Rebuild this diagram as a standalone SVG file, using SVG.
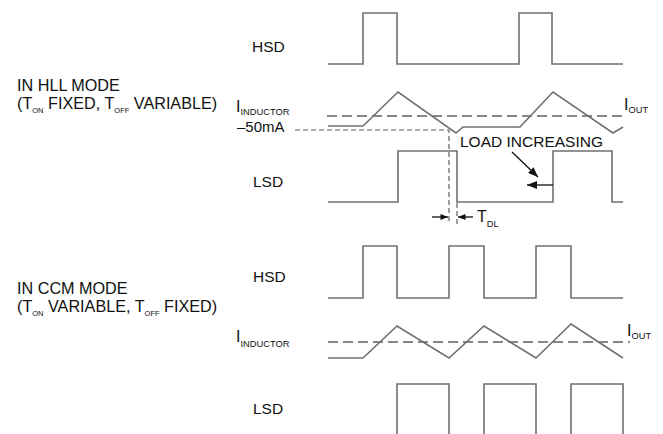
<svg xmlns="http://www.w3.org/2000/svg" width="663" height="434" viewBox="0 0 663 434">
<style>
text{font-family:"Liberation Sans",Arial,sans-serif;fill:#111}
.lbl{font-size:15.5px}
.mode{font-size:16.2px}
.sub{font-size:7.5px}
.isub{font-size:9.3px}
.wave{fill:none;stroke:#707070;stroke-width:1.6;stroke-linejoin:miter}
.dash{fill:none;stroke:#606060;stroke-width:1.3;stroke-dasharray:10,5}
.sdash{fill:none;stroke:#606060;stroke-width:1.2;stroke-dasharray:5,3}
.arr{fill:none;stroke:#111;stroke-width:1.3}
</style>
<defs>
<marker id="ah" viewBox="0 0 10 8" refX="10" refY="4" markerWidth="11" markerHeight="8" orient="auto" markerUnits="userSpaceOnUse"><path d="M0,0 L10,4 L0,8 z" fill="#111"/></marker>
<marker id="ahs" viewBox="0 0 10 8" refX="10" refY="4" markerWidth="8" markerHeight="6" orient="auto" markerUnits="userSpaceOnUse"><path d="M0,0 L10,4 L0,8 z" fill="#111"/></marker>
</defs>
<g id="mode-labels">
<text class="mode" x="17" y="91">IN HLL MODE</text>
<text class="mode" x="17" y="109">(T<tspan class="sub" dy="4">ON</tspan><tspan dy="-4"> FIXED, T</tspan><tspan class="sub" dy="4">OFF</tspan><tspan dy="-4"> VARIABLE)</tspan></text>
<text class="mode" x="17" y="294">IN CCM MODE</text>
<text class="mode" x="17" y="312">(T<tspan class="sub" dy="4">ON</tspan><tspan dy="-4"> VARIABLE, T</tspan><tspan class="sub" dy="4">OFF</tspan><tspan dy="-4"> FIXED)</tspan></text>
</g>
<g id="hll-hsd">
<text class="lbl" x="252" y="52">HSD</text>
<polyline class="wave" points="328,64 363,64 363,13 397,13 397,64 519,64 519,13 552,13 552,64 623,64"/>
</g>
<g id="hll-inductor">
<text class="lbl" x="236" y="112" style="font-size:16px">I<tspan class="isub" dy="3">INDUCTOR</tspan></text>
<text class="lbl" x="237" y="132" style="font-size:15px">–50mA</text>
<text class="lbl" x="624" y="110" style="font-size:16px">I<tspan class="isub" dy="3">OUT</tspan></text>
<line class="dash" x1="327" y1="116" x2="622" y2="116"/>
<polyline class="sdash" points="295,130 449,130 449,224"/>
<polyline class="wave" points="328,126 363,126 398,92 456,133 463,127 520,127 553,92 613,133 623,127"/>
</g>
<g id="hll-lsd">
<text class="lbl" x="253" y="187">LSD</text>
<polyline class="wave" points="328,202 398,202 398,151 457,151 457,202 553,202 553,151 612,151 612,202 623,202"/>
<line class="sdash" x1="457" y1="203" x2="457" y2="224"/>
</g>
<g id="tdl">
<text class="lbl" x="477" y="222" style="font-size:16px">T<tspan class="isub" dy="5">DL</tspan></text>
</g>
<g id="load-increasing">
<text class="lbl" x="460" y="147">LOAD INCREASING</text>
</g>
<g id="ccm-hsd">
<text class="lbl" x="253" y="282">HSD</text>
<polyline class="wave" points="328,298 363,298 363,246 397,246 397,298 449,298 449,246 484,246 484,298 536,298 536,246 571,246 571,298 623,298"/>
</g>
<g id="ccm-inductor">
<text class="lbl" x="236" y="342" style="font-size:16px">I<tspan class="isub" dy="5">INDUCTOR</tspan></text>
<text class="lbl" x="627" y="336" style="font-size:16px">I<tspan class="isub" dy="3">OUT</tspan></text>
<line class="dash" x1="328" y1="342" x2="630" y2="342"/>
<polyline class="wave" points="328,358 363,358 397,326 449,358 484,326 536,358 571,324 623,358"/>
</g>
<g id="ccm-lsd">
<text class="lbl" x="253" y="414">LSD</text>
<polyline class="wave" points="397,440 397,384 449,384 449,440"/>
<polyline class="wave" points="484,440 484,384 536,384 536,440"/>
<polyline class="wave" points="571,440 571,384 623,384 623,440"/>
</g>
<g id="connectors">
<line class="arr" x1="512" y1="152" x2="538" y2="177" marker-end="url(#ah)"/>
<line class="arr" x1="553" y1="185" x2="527" y2="185" marker-end="url(#ah)"/>
<line class="arr" x1="432" y1="217" x2="448" y2="217" marker-end="url(#ahs)"/>
<line class="arr" x1="473" y1="217" x2="458" y2="217" marker-end="url(#ahs)"/>
</g>
</svg>
